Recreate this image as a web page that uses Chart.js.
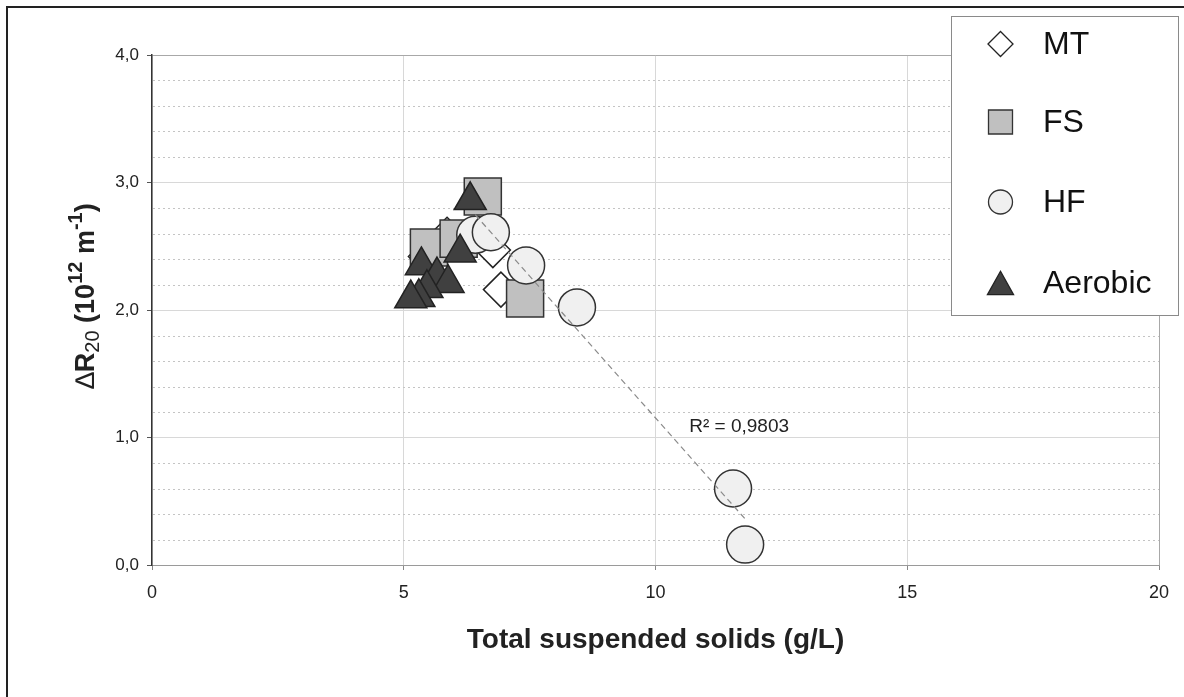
<!DOCTYPE html>
<html>
<head>
<meta charset="utf-8">
<script src="https://cdn.jsdelivr.net/npm/chart.js@4/dist/chart.umd.min.js"></script>
<style>
  html, body { margin: 0; padding: 0; background: #fff; }
  #wrap { position: relative; width: 1184px; height: 697px; overflow: hidden; }
  #frame { position: absolute; left: 6px; top: 6px; width: 1200px; height: 720px;
           border-left: 2px solid #222; border-top: 2px solid #222; pointer-events: none; }
  canvas { display: block; }
</style>
</head>
<body>
<div id="wrap">
  <canvas id="c" width="1184" height="697"></canvas>
  <div id="frame"></div>
</div>
<script>
// Series: total suspended solids (g/L) vs. specific resistance increase
const seriesNames = ['MT', 'FS', 'HF', 'Aerobic'];

const mtX = [5.44, 5.86, 6.77, 6.93];
const mtY = [2.42, 2.59, 2.47, 2.16];

const fsX = [5.50, 6.09, 6.57, 7.41];
const fsY = [2.49, 2.56, 2.89, 2.09];

const hfX = [6.42, 6.73, 7.43, 8.44, 11.54, 11.78];
const hfY = [2.59, 2.61, 2.35, 2.02, 0.60, 0.16];

const aeX = [6.32, 6.12, 5.35, 5.66, 5.88, 5.46, 5.30, 5.14];
const aeY = [2.86, 2.45, 2.35, 2.27, 2.21, 2.17, 2.10, 2.09];

const xTicks = [0, 5, 10, 15, 20];
const yTicks = [0, 1, 2, 3, 4];
const yMinorStep = 0.2;

const xTitle = 'Total suspended solids (g/L)';
const r2Text = 'R² = 0,9803';
const r2Pos = { x: 10.67, y: 1.04 };

const FONT = '"Liberation Sans", Arial, sans-serif';

const toPoints = (xs, ys) => xs.map((x, i) => ({ x, y: ys[i] }));

// least-squares line through the HF series
function linearFit(xs, ys) {
  const n = xs.length;
  const mx = xs.reduce((a, b) => a + b, 0) / n;
  const my = ys.reduce((a, b) => a + b, 0) / n;
  let sxy = 0, sxx = 0;
  for (let i = 0; i < n; i++) { sxy += (xs[i] - mx) * (ys[i] - my); sxx += (xs[i] - mx) ** 2; }
  const b = sxy / sxx, a = my - b * mx;
  const x0 = Math.min(...xs), x1 = Math.max(...xs);
  return [{ x: x0, y: a + b * x0 }, { x: x1, y: a + b * x1 }];
}

const styles = {
  MT:      { pointStyle: 'rectRot',  radius: 17.5, fill: '#ffffff', stroke: '#222222', lr: 12.5 },
  FS:      { pointStyle: 'rect',     radius: 26.2, fill: '#c0c0c0', stroke: '#333333', lr: 24 },
  HF:      { pointStyle: 'circle',   radius: 18.5, fill: '#f0f0f0', stroke: '#333333', lr: 12 },
  Aerobic: { pointStyle: 'triangle', radius: 18.5, fill: '#404040', stroke: '#222222', lr: 15 }
};

function scatterSet(name, xs, ys, order) {
  const s = styles[name];
  return {
    label: name,
    data: toPoints(xs, ys),
    pointStyle: s.pointStyle,
    pointRadius: s.radius,
    pointHoverRadius: s.radius,
    backgroundColor: s.fill,
    borderColor: s.stroke,
    borderWidth: 1.5,
    showLine: false,
    order
  };
}

// dotted minor grid, drawn beneath the datasets
const minorGrid = {
  id: 'minorGrid',
  beforeDatasetsDraw(chart) {
    const { ctx, chartArea: a, scales: { y } } = chart;
    ctx.save();
    ctx.strokeStyle = '#c4c4c4';
    ctx.lineWidth = 1;
    ctx.setLineDash([2, 3]);
    for (let v = y.min + yMinorStep; v < y.max - 1e-9; v += yMinorStep) {
      if (Math.abs(v - Math.round(v)) < 1e-6) continue;
      const py = Math.round(y.getPixelForValue(v)) + 0.5;
      ctx.beginPath(); ctx.moveTo(a.left + 1, py); ctx.lineTo(a.right, py); ctx.stroke();
    }
    ctx.restore();
  }
};

function drawMarker(ctx, style, x, y, r, fill, stroke) {
  ctx.beginPath();
  if (style === 'rectRot') {
    ctx.moveTo(x - r, y); ctx.lineTo(x, y - r); ctx.lineTo(x + r, y); ctx.lineTo(x, y + r);
  } else if (style === 'rect') {
    ctx.rect(x - r / 2, y - r / 2, r, r);
  } else if (style === 'circle') {
    ctx.arc(x, y, r, 0, Math.PI * 2);
  } else {
    ctx.moveTo(x, y - r * 0.78); ctx.lineTo(x + r * 0.87, y + r * 0.78); ctx.lineTo(x - r * 0.87, y + r * 0.78);
  }
  ctx.closePath();
  ctx.fillStyle = fill; ctx.fill();
  ctx.lineWidth = 1.3; ctx.strokeStyle = stroke; ctx.stroke();
}

// titles, regression label and legend box
const annotations = {
  id: 'annotations',
  afterDraw(chart) {
    const { ctx, chartArea: a, scales: { x, y } } = chart;
    ctx.save();

    // R² label
    ctx.fillStyle = '#222';
    ctx.font = '19px ' + FONT;
    ctx.textBaseline = 'alphabetic';
    ctx.textAlign = 'left';
    ctx.fillText(r2Text, x.getPixelForValue(r2Pos.x), y.getPixelForValue(r2Pos.y));

    // x axis title, centred under the plot area
    ctx.font = 'bold 28px ' + FONT;
    ctx.textAlign = 'center';
    ctx.textBaseline = 'alphabetic';
    ctx.fillText(xTitle, (a.left + a.right) / 2, 648);

    // y axis title with sub/superscripts
    ctx.translate(84, (a.top + a.bottom) / 2 - 14);
    ctx.rotate(-Math.PI / 2);
    const parts = [
      { t: '\u2206', f: '27px ' + FONT, dy: 0 },
      { t: 'R', f: 'bold 27px ' + FONT, dy: 0 },
      { t: '20', f: '20px ' + FONT, dy: 5 },
      { t: ' (10', f: 'bold 27px ' + FONT, dy: 0 },
      { t: '12', f: 'bold 20px ' + FONT, dy: -12 },
      { t: ' m', f: 'bold 27px ' + FONT, dy: 0 },
      { t: '-1', f: 'bold 20px ' + FONT, dy: -12 },
      { t: ')', f: 'bold 27px ' + FONT, dy: 0 }
    ];
    let total = 0;
    parts.forEach(p => { ctx.font = p.f; p.w = ctx.measureText(p.t).width; total += p.w; });
    let cx = -total / 2;
    ctx.textAlign = 'left';
    parts.forEach(p => { ctx.font = p.f; ctx.fillText(p.t, cx, 10 + p.dy); cx += p.w; });
    ctx.setTransform(1, 0, 0, 1, 0, 0);

    // legend box
    const L = { left: 951.5, top: 16.5, w: 227, h: 299 };
    ctx.fillStyle = '#fff';
    ctx.fillRect(L.left, L.top, L.w, L.h);
    ctx.strokeStyle = '#8a8a8a';
    ctx.lineWidth = 1;
    ctx.strokeRect(L.left, L.top, L.w, L.h);
    const rowY = [44, 122, 202, 283];
    ctx.font = '32px ' + FONT;
    ctx.textAlign = 'left';
    ctx.textBaseline = 'middle';
    seriesNames.forEach((name, i) => {
      const s = styles[name];
      drawMarker(ctx, s.pointStyle, 1000.5, rowY[i], s.lr, s.fill, s.stroke);
      ctx.fillStyle = '#111';
      ctx.fillText(name, 1043, rowY[i] + 1);
    });
    ctx.restore();
  }
};

const fit = linearFit(hfX, hfY);

new Chart(document.getElementById('c'), {
  type: 'scatter',
  data: {
    datasets: [
      {
        label: 'trend',
        data: fit,
        showLine: true,
        borderColor: '#8a8a8a',
        borderWidth: 1.2,
        borderDash: [6, 4],
        pointRadius: 0,
        order: 0
      },
      scatterSet('Aerobic', aeX, aeY, 1),
      scatterSet('HF', hfX, hfY, 2),
      scatterSet('FS', fsX, fsY, 3),
      scatterSet('MT', mtX, mtY, 4)
    ]
  },
  options: {
    responsive: false,
    animation: false,
    events: [],
    layout: { autoPadding: false, padding: { left: 0, top: 55, right: 25, bottom: 0 } },
    plugins: { legend: { display: false }, tooltip: { enabled: false } },
    scales: {
      x: {
        type: 'linear', min: 0, max: 20,
        afterBuildTicks: s => { s.ticks = xTicks.map(v => ({ value: v })); },
        afterFit: s => { s.height = 132; },
        ticks: { color: '#222', font: { family: FONT, size: 18 }, padding: 12, maxRotation: 0 },
        grid: { color: ctx => ctx.tick && ctx.tick.value === 20 ? '#a8a8a8' : '#d8d8d8', lineWidth: 1, tickColor: '#888', tickLength: 5 },
        border: { color: '#9a9a9a', width: 1 }
      },
      y: {
        type: 'linear', min: 0, max: 4,
        afterBuildTicks: s => { s.ticks = yTicks.map(v => ({ value: v })); },
        afterFit: s => { s.width = 152; },
        ticks: {
          color: '#222', font: { family: FONT, size: 17 }, padding: 8,
          callback: v => v.toFixed(1).replace('.', ',')
        },
        grid: { color: ctx => ctx.tick && ctx.tick.value === 4 ? '#a8a8a8' : '#d8d8d8', lineWidth: 1, tickColor: '#555', tickLength: 5 },
        border: { color: '#333', width: 1.5 }
      }
    }
  },
  plugins: [minorGrid, annotations]
});
</script>
</body>
</html>
